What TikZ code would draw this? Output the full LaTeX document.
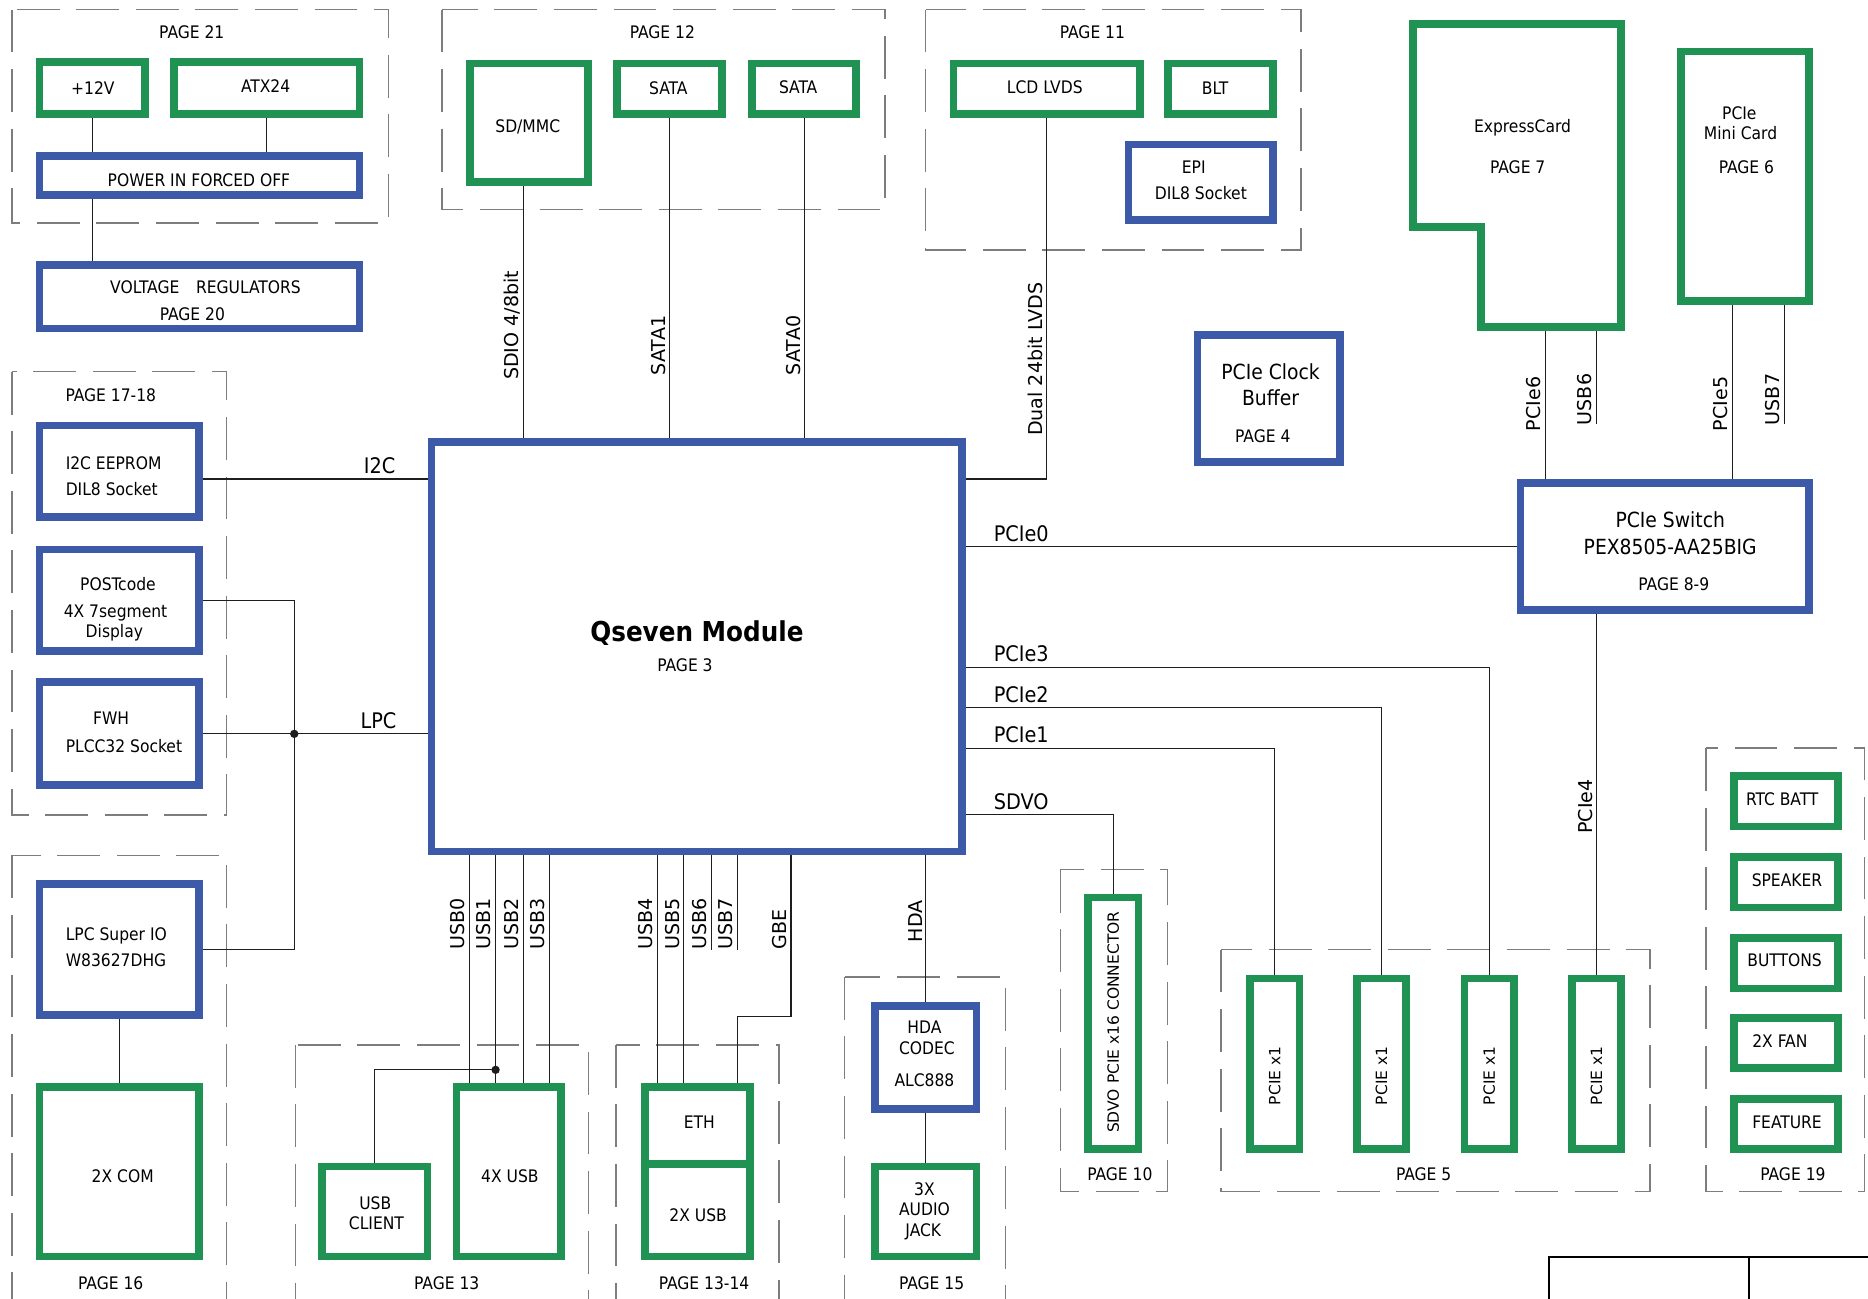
\documentclass[tikz,border=0pt]{standalone}
\usepackage{fontspec}
\setmainfont{DejaVu Sans Condensed}
\newfontfamily\widefont{DejaVu Sans}
\usetikzlibrary{calc}
\definecolor{gr}{RGB}{32,146,84}
\definecolor{bl}{RGB}{60,90,168}
\definecolor{grpc}{RGB}{125,125,125}
\definecolor{wirec}{RGB}{30,30,30}
\newcommand\fsBox{\fontsize{14.5}{17}\selectfont}
\newcommand\fsSig{\fontsize{18}{21}\selectfont}
\newcommand\fsRot{\widefont\fontsize{16}{19}\selectfont}
\newcommand\fsRotS{\widefont\fontsize{13}{16}\selectfont}
\newcommand\fsBig{\fontsize{17.5}{21}\selectfont}
\tikzset{
  gbox/.style={draw=gr, line width=6.5pt, inner sep=0pt, rectangle},
  bbox/.style={draw=bl, line width=6.5pt, inner sep=0pt, rectangle},
  sz/.style 2 args={minimum width=#1pt, minimum height=#2pt},
  wire/.style={draw=wirec, line width=1pt},
  grp/.style={draw=grpc, line width=1.3pt, dash pattern=on 36pt off 14pt},
  ln/.style={font=\fsBox, anchor=base, inner sep=0pt},
  lnw/.style={font=\fsBox, anchor=base west, inner sep=0pt},
  txtn/.style={font=\fsBox, align=center, inner sep=0pt},
  rt/.style={font=\fsRotS, rotate=90, inner sep=0pt},
  sig/.style={font=\fsSig, anchor=base west, inner sep=0pt},
  sigr/.style={font=\fsSig, anchor=base east, inner sep=0pt},
  rsig/.style={font=\fsRot, rotate=90, anchor=base west, inner sep=0pt}
}
\begin{document}
\begin{tikzpicture}[x=1pt,y=-1pt]
\fill[white] (0,0) rectangle (1568,1090);
\useasboundingbox (0,0) rectangle (1568,1090);

% ---------- dashed groups ----------
\draw[grp] (10,8) rectangle (326,187);
\draw[grp] (371,8) rectangle (743,176);
\draw[grp] (777,8) rectangle (1092,210);
\draw[grp] (10,312) rectangle (190,684);
\draw[grp] (10,718) rectangle (190,1100);
\draw[grp] (248,877) rectangle (494,1100);
\draw[grp] (517,877) rectangle (654,1100);
\draw[grp] (709,820) rectangle (844,1100);
\draw[grp] (890,730) rectangle (980,1000);
\draw[grp] (1025,797) rectangle (1385,1000);
\draw[grp] (1432,628) rectangle (1565,1000);

\node[ln] (g21) at (161,32.3) {PAGE 21};
\node[ln] (g12) at (556,32.3) {PAGE 12};
\node[ln] (g11) at (917,32.3) {PAGE 11};
\node[ln] (g17) at (93,337.3) {PAGE 17-18};
\node[ln] (g16) at (93,1082.3) {PAGE 16};
\node[ln] (g13) at (375,1082.3) {PAGE 13};
\node[ln] (g1314) at (591,1082.3) {PAGE 13-14};
\node[ln] (g15) at (782,1082.3) {PAGE 15};
\node[ln] (g10) at (940,991.3) {PAGE 10};
\node[ln] (g5) at (1195,991.3) {PAGE 5};
\node[ln] (g19) at (1505,991.3) {PAGE 19};

% ---------- boxes ----------
\node[gbox,sz={88.5}{43.5}] (p12v) at (77.5,74) {};
\node[ln] (t12v) at (78,79.3) {+12V};
\node[gbox,sz={155.5}{43.5}] (atx) at (224,74) {};
\node[ln] (tatx) at (223,77.3) {ATX24};
\node[bbox,sz={268.5}{32.5}] (pwr) at (167.5,147.5) {};
\node[ln] (tpwr) at (167,156.3) {POWER IN FORCED OFF};
\node[bbox,sz={268.5}{53.5}] (vreg) at (167.5,249) {};
\node[ln] (tvreg) at (172.5,246.3) {VOLTAGE\hspace{14pt}REGULATORS};
\node[ln] (tvregp) at (161.5,269.3) {PAGE 20};

\node[gbox,sz={99.5}{99.5}] (sdmmc) at (444,103) {};
\node[ln] (tsd) at (443,111.3) {SD/MMC};
\node[gbox,sz={88.5}{42.5}] (sataA) at (562,74.5) {};
\node[ln] (tsataA) at (561,79.3) {SATA};
\node[gbox,sz={87.5}{42.5}] (sataB) at (675,74.5) {};
\node[ln] (tsataB) at (670,78.3) {SATA};

\node[gbox,sz={156.5}{42.5}] (lcd) at (878.5,74.5) {};
\node[ln] (tlcd) at (877,78.3) {LCD LVDS};
\node[gbox,sz={88.5}{42.5}] (blt) at (1024.5,74.5) {};
\node[ln] (tblt) at (1020,79.3) {BLT};
\node[bbox,sz={121.5}{63.5}] (epi) at (1008,153) {};
\node[ln] (tepi) at (1002,145.3) {EPI};
\node[ln] (tepi2) at (1008,167.3) {DIL8 Socket};

\draw[draw=gr, line width=6.5pt] (1186.25,20.25) -- (1360.75,20.25) -- (1360.75,274.75)
  -- (1243.25,274.75) -- (1243.25,190.25) -- (1186.25,190.25) -- cycle;
\node[ln] (exT) at (1278,111.3) {ExpressCard};
\node[ln] (exT2) at (1274,145.3) {PAGE 7};
\coordinate (exP) at (1297,278);
\coordinate (exU) at (1340,278);

\node[gbox,sz={107.5}{209.5}] (mini) at (1465,148) {};
\node[ln] (miniT) at (1460,100.3) {PCIe};
\node[ln] (miniT2) at (1461,117.3) {Mini Card};
\node[ln] (miniT3) at (1466,145.3) {PAGE 6};

\node[bbox,sz={119.5}{106.5}] (clk) at (1065,334.5) {};
\node[txtn,font=\fsBig] (clkT) at (1066.5,323) {PCIe Clock\\[1pt]Buffer};
\node[ln] (clkP) at (1060,371.3) {PAGE 4};

\node[bbox,sz={242.5}{106.5}] (sw) at (1397.5,458.5) {};
\node[txtn,font=\fsBig] (swT) at (1402,447.5) {PCIe Switch\\[2pt]PEX8505-AA25BIG};
\node[ln] (swP) at (1405,495.3) {PAGE 8-9};

\node[bbox,sz={445.5}{343.5}] (qs) at (585,543) {};
\node[font=\fontsize{23}{27}\selectfont\bfseries, anchor=base, inner sep=0pt] (qsT) at (585,538.4) {Qseven Module};
\node[ln] (qsP) at (575,563.3) {PAGE 3};

\node[bbox,sz={133.5}{76.5}] (i2c) at (100,395.5) {};
\node[lnw] (ti2c) at (55,394.3) {I2C EEPROM};
\node[lnw] (ti2c2) at (55,416.3) {DIL8 Socket};
\node[bbox,sz={133.5}{85.5}] (post) at (100,504) {};
\node[ln] (tpost) at (99,495.3) {POSTcode};
\node[ln] (tpost2) at (97,518.3) {4X 7segment};
\node[ln] (tpost3) at (96,535.3) {Display};
\node[bbox,sz={133.5}{86.5}] (fwh) at (100,615.5) {};
\node[lnw] (tfwh) at (78,608.3) {FWH};
\node[lnw] (tfwh2) at (55,631.3) {PLCC32 Socket};
\node[bbox,sz={133.5}{109.5}] (lpcio) at (100,797) {};
\node[lnw] (tlpc) at (55,789.3) {LPC Super IO};
\node[lnw] (tlpc2) at (55,811.3) {W83627DHG};
\node[gbox,sz={133.5}{142.5}] (com) at (100,983.5) {};
\node[ln] (tcom) at (103,992.3) {2X COM};

\node[gbox,sz={88.5}{75.5}] (usbc) at (314.5,1017) {};
\node[ln] (tusbc) at (315,1015.3) {USB};
\node[ln] (tusbc2) at (316,1032.3) {CLIENT};
\node[gbox,sz={87.5}{142.5}] (usb4) at (427,983.5) {};
\node[ln] (tusb4) at (428,992.3) {4X USB};
\node[gbox,sz={88.5}{64.5}] (eth) at (585.5,944.5) {};
\node[ln] (teth) at (587,947.3) {ETH};
\node[gbox,sz={88.5}{77.5}] (usb2) at (585.5,1016) {};
\node[ln] (tusb2) at (586,1025.3) {2X USB};
\node[bbox,sz={85.5}{86.5}] (hdac) at (777,887.5) {};
\node[ln] (thda) at (776,867.3) {HDA};
\node[ln] (thda2) at (778,885.3) {CODEC};
\node[ln] (thda3) at (776,912.3) {ALC888};
\node[gbox,sz={85.5}{75.5}] (jack) at (777,1017) {};
\node[ln] (tjack) at (776,1003.3) {3X};
\node[ln] (tjack2) at (776,1020.3) {AUDIO};
\node[ln] (tjack3) at (775,1038.3) {JACK};

\node[gbox,sz={42.5}{211.5}] (sdvo) at (934.5,859) {};
\node[rt] (sdvoT) at (934.5,858) {SDVO PCIE x16 CONNECTOR};
\foreach \i/\x in {1/1070,2/1159.7,3/1250,4/1340} {
  \node[gbox,sz={41.5}{143.5}] (px\i) at (\x,893) {};
  \node[rt] (pxT\i) at (\x,903) {PCIE x1};
}

\node[gbox,sz={87.5}{42.5}] (rtc) at (1499,672.5) {};
\node[ln] (trtc) at (1496,676.3) {RTC BATT};
\node[gbox,sz={87.5}{42.5}] (spk) at (1499,740.5) {};
\node[ln] (tspk) at (1500,744.3) {SPEAKER};
\node[gbox,sz={87.5}{42.5}] (btn) at (1499,808.5) {};
\node[ln] (tbtn) at (1498,811.3) {BUTTONS};
\node[gbox,sz={87.5}{42.5}] (fan) at (1499,875.5) {};
\node[ln] (tfan) at (1494,879.3) {2X FAN};
\node[gbox,sz={87.5}{42.5}] (feat) at (1499,943.5) {};
\node[ln] (tfeat) at (1500,947.3) {FEATURE};

% ---------- wires ----------
\draw[wire] (p12v.south) -- (p12v.south |- pwr.north);
\draw[wire] (atx.south) -- (atx.south |- pwr.north);
\draw[wire] (pwr.south -| p12v.south) -- (p12v.south |- vreg.north);

\draw[wire] ([xshift=-4.6pt]sdmmc.south) -- ([xshift=-4.6pt]sdmmc.south |- qs.north);
\draw[wire] (sataA.south) -- (sataA.south |- qs.north);
\draw[wire] (sataB.south) -- (sataB.south |- qs.north);
\draw[wire] (lcd.south) |- ([yshift=-34pt]qs.north east);

\draw[wire] ([yshift=-6.5pt]i2c.east) -- ([yshift=-6.5pt]i2c.east -| qs.west);
\coordinate (lpcj) at (247,616);
\draw[wire] (post.east) -| (lpcj);
\draw[wire] (lpcio.east) -| (lpcj);
\draw[wire] (fwh.east) -- (fwh.east -| qs.west);
\fill[wirec] (lpcj) circle (3.5pt);
\draw[wire] ([xshift=0.3pt]lpcio.south) -- ([xshift=0.3pt]com.north);

\draw[wire] (sw.west -| qs.east) -- (sw.west);
\draw[wire] ([yshift=-17pt]qs.east) -| (px3.north);
\draw[wire] ([yshift=-51pt]qs.east) -| (px2.north);
\draw[wire] ([yshift=-85pt]qs.east) -| (px1.north);
\draw[wire] ([yshift=-141pt]qs.east) -| (sdvo.north);
\draw[wire] (px4.north |- sw.south) -- (px4.north);
\draw[wire] (exP) -- (exP |- sw.north);
\draw[wire] (exU) -- ++(0,78);
\draw[wire] ([xshift=-11pt]mini.south) -- ([xshift=-11pt]mini.south |- sw.north);
\draw[wire] ([xshift=33pt]mini.south) -- ++(0,100);

\foreach \dx in {-33,-11,12.4,34}
  \draw[wire] ([xshift=\dx pt]usb4.north) -- ([xshift=\dx pt]usb4.north |- qs.south);
\coordinate (usbj) at (416,898);
\draw[wire] (usbj) -| (usbc.north);
\fill[wirec] (usbj) circle (3.5pt);

\foreach \dx in {-33.5,-11.5}
  \draw[wire] ([xshift=\dx pt]eth.north) -- ([xshift=\dx pt]eth.north |- qs.south);
\foreach \dx in {11.5,33.5}
  \draw[wire] ([xshift=\dx pt]eth.north |- qs.south) -- ++(0,79);
\draw[wire] ([xshift=79pt]qs.south) -- ++(0,135) -| ([xshift=33.5pt]eth.north);
\draw[wire] (hdac.north |- qs.south) -- (hdac.north);
\draw[wire] (hdac.south) -- (jack.north);

% ---------- signal labels ----------
\node[sigr] (lI2C) at (332,397.5) {I2C};
\node[sigr] (lLPC) at (333,611.5) {LPC};
\node[sig] (lP0) at (834,454.5) {PCIe0};
\node[sig] (lP3) at (834,555.5) {PCIe3};
\node[sig] (lP2) at (834,589.5) {PCIe2};
\node[sig] (lP1) at (834,623.5) {PCIe1};
\node[sig] (lSDVO) at (834,679.5) {SDVO};

\node[rsig] (lSDIO) at (435,319) {SDIO 4/8bit};
\node[rsig] (lS1) at (559,315) {SATA1};
\node[rsig] (lS0) at (672,315) {SATA0};
\node[rsig] (lLVDS) at (875,366) {Dual 24bit LVDS};
\node[rsig] (lP6) at (1293,362) {PCIe6};
\node[rsig] (lU6) at (1336,357) {USB6};
\node[rsig] (lP5) at (1450,362) {PCIe5};
\node[rsig] (lU7) at (1494,357) {USB7};
\node[rsig] (lP4) at (1337,700) {PCIe4};
\node[rsig] (lU0) at (390,797) {USB0};
\node[rsig] (lU1) at (412,797) {USB1};
\node[rsig] (lU2) at (435,797) {USB2};
\node[rsig] (lU3) at (457,797) {USB3};
\node[rsig] (lU4) at (548,797) {USB4};
\node[rsig] (lU5) at (570,797) {USB5};
\node[rsig] (lU6b) at (593,797) {USB6};
\node[rsig] (lU7b) at (615,797) {USB7};
\node[rsig] (lGBE) at (660,797) {GBE};
\node[rsig] (lHDA) at (774,791) {HDA};

% ---------- title block ----------
\draw[line width=1.5pt] (1300,1100) -- (1300,1055) -- (1575,1055);
\draw[line width=1.5pt] (1468,1055) -- (1468,1100);
\end{tikzpicture}
\end{document}
